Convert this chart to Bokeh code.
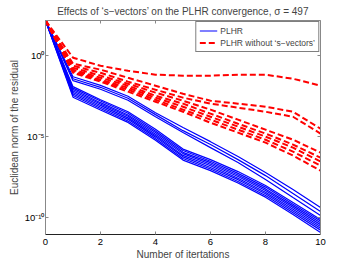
from bokeh.plotting import figure
from bokeh.models import Range1d, LinearAxis, LogAxis, FixedTicker, Legend, LegendItem, ColumnDataSource
from bokeh.embed import file_html
from bokeh.resources import INLINE

# iterations
iterations = [0, 1, 2, 3, 4, 5, 6, 7, 8, 9, 10]

# log10 of the residual norm, PLHR (with s-vectors)
plhr_log10 = [
    [2.18, -1.30, -1.83, -2.50, -3.52, -4.44, -5.31, -6.23, -7.22, -8.27, -9.38],
    [2.18, -1.42, -1.95, -2.63, -3.64, -4.63, -5.49, -6.42, -7.41, -8.52, -9.63],
    [2.18, -1.54, -2.07, -2.75, -3.77, -4.75, -5.68, -6.60, -7.65, -8.77, -9.88],
    [2.18, -1.91, -2.72, -3.46, -4.54, -5.77, -6.42, -7.16, -8.02, -9.07, -10.12],
    [2.18, -2.00, -2.80, -3.55, -4.65, -5.86, -6.52, -7.27, -8.12, -9.18, -10.22],
    [2.18, -2.09, -2.90, -3.66, -4.74, -5.97, -6.61, -7.37, -8.23, -9.28, -10.33],
    [2.18, -2.18, -2.98, -3.74, -4.85, -6.05, -6.71, -7.46, -8.33, -9.38, -10.44],
    [2.18, -2.27, -3.07, -3.84, -4.94, -6.16, -6.80, -7.57, -8.44, -9.49, -10.56],
    [2.18, -2.36, -3.17, -3.93, -5.03, -6.25, -6.91, -7.66, -8.53, -9.60, -10.66],
    [2.18, -2.46, -3.26, -4.03, -5.13, -6.35, -7.00, -7.77, -8.64, -9.71, -10.78],
    [2.18, -2.56, -3.35, -4.12, -5.22, -6.45, -7.10, -7.87, -8.74, -9.82, -10.92],
]

# log10 of the residual norm, PLHR without s-vectors
nosv_log10 = [
    [2.18, -0.12, -0.62, -0.93, -1.17, -1.23, -1.23, -1.17, -1.17, -1.42, -1.85],
    [2.18, -0.49, -0.86, -1.36, -1.85, -2.35, -2.78, -2.96, -3.15, -3.46, -4.51],
    [2.18, -0.62, -1.05, -1.60, -2.10, -2.59, -2.96, -3.21, -3.46, -3.77, -4.81],
    [2.18, -0.74, -1.23, -1.73, -2.28, -2.78, -3.33, -3.95, -4.57, -5.19, -5.99],
    [2.18, -0.86, -1.36, -1.85, -2.47, -2.96, -3.58, -4.20, -4.81, -5.49, -6.30],
    [2.18, -0.93, -1.48, -1.98, -2.59, -3.15, -3.77, -4.38, -5.00, -5.68, -6.54],
    [2.18, -0.99, -1.54, -2.10, -2.72, -3.33, -3.95, -4.57, -5.19, -5.93, -6.79],
    [2.18, -1.05, -1.60, -2.22, -2.84, -3.46, -4.14, -4.75, -5.37, -6.17, -7.10],
]

x_ticks = [0, 2, 4, 6, 8, 10]
y_ticks = [1e0, 1e-5, 1e-10]
y_tick_labels = {1e0: "10⁰", 1e-5: "10⁻⁵", 1e-10: "10⁻¹⁰"}

title_text = "Effects of ‘s−vectors’ on the PLHR convergence, σ = 497"
legend_labels = ["PLHR", "PLHR without ‘s−vectors’"]
font = "Liberation Sans"

p = figure(
    frame_width=275, frame_height=214,
    x_range=Range1d(0, 10), y_range=Range1d(10 ** -11.05, 10 ** 2.18),
    y_axis_type="log", output_backend="svg", toolbar_location=None,
    min_border_left=0, min_border_right=18, min_border_top=0, min_border_bottom=4,
    background_fill_color="white", border_fill_color="white",
)
p.margin = (0, 0, 0, 5)
p.outline_line_color = None
p.grid.visible = False

p.title.text = title_text
p.title.align = "center"
p.title.text_font = font
p.title.text_font_size = "10px"
p.title.text_font_style = "normal"
p.title.standoff = 7
p.title.offset = 0

blue_src = ColumnDataSource(dict(xs=[iterations] * len(plhr_log10),
                                 ys=[[10 ** v for v in row] for row in plhr_log10]))
red_src = ColumnDataSource(dict(xs=[iterations] * len(nosv_log10),
                                ys=[[10 ** v for v in row] for row in nosv_log10]))
rb = p.multi_line("xs", "ys", source=blue_src, line_color="#0000ff", line_width=1.2)
rr = p.multi_line("xs", "ys", source=red_src, line_color="#ff0000", line_width=2,
                  line_dash="6 3")

legend = Legend(items=[LegendItem(label=legend_labels[0], renderers=[rb]),
                       LegendItem(label=legend_labels[1], renderers=[rr])],
                location="top_right")
legend.label_text_font = font
legend.label_text_font_size = "8.5px"
legend.label_height = 10
legend.glyph_height = 11
legend.glyph_width = 18
legend.spacing = 1
legend.padding = 3
legend.margin = 1
legend.label_standoff = 3
legend.border_line_color = "black"
legend.border_line_width = 1
legend.background_fill_alpha = 1
p.add_layout(legend, "center")

for ax in [p.xaxis[0], p.yaxis[0]]:
    ax.major_tick_in = 3
    ax.major_tick_out = 0
    ax.minor_tick_in = 0
    ax.minor_tick_out = 0
    ax.major_label_text_font = font
    ax.major_label_text_font_size = "9.5px"
    ax.major_label_text_color = "black"
    ax.axis_label_text_font = font
    ax.axis_label_text_font_size = "10px"
    ax.axis_label_text_font_style = "normal"
    ax.major_tick_line_color = "#888888"

p.xaxis.ticker = FixedTicker(ticks=x_ticks)
p.xaxis.axis_label = "Number of itertations"
p.xaxis.axis_line_color = "#222222"
p.xaxis.major_label_standoff = 4
p.xaxis.axis_label_standoff = 1

p.yaxis.ticker = FixedTicker(ticks=y_ticks)
p.yaxis.major_label_overrides = y_tick_labels
p.yaxis.axis_label = "Euclidean norm of the residual"
p.yaxis.axis_line_color = "#888888"
p.yaxis.major_label_standoff = 1
p.yaxis.axis_label_standoff = 2

top = LinearAxis(ticker=FixedTicker(ticks=x_ticks), major_label_text_font_size="1px",
                 major_label_text_color=None, major_label_standoff=0,
                 major_tick_in=3, major_tick_out=0,
                 minor_tick_in=0, minor_tick_out=0, axis_line_color="#888888",
                 major_tick_line_color="#888888")
p.add_layout(top, "above")

right = LogAxis(ticker=FixedTicker(ticks=y_ticks), major_label_text_font_size="1px",
                major_label_text_color=None, major_label_standoff=0,
                major_tick_in=3, major_tick_out=0,
                minor_tick_in=0, minor_tick_out=0, axis_line_color="#888888",
                major_tick_line_color="#888888")
p.add_layout(right, "right")

open("out.html", "w").write(file_html(p, INLINE))
